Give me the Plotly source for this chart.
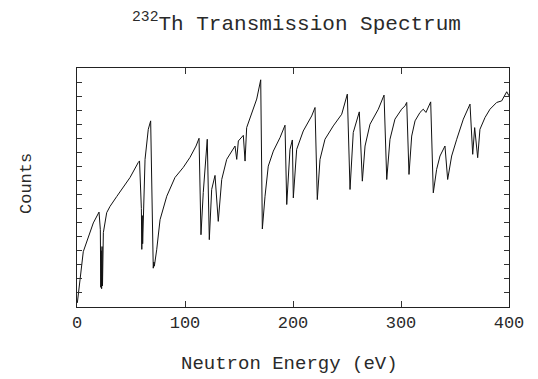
import plotly.graph_objects as go

# Neutron energy (eV) and transmission counts (arbitrary units)
energy = [0.3, 1.2, 2.8, 5.8, 10.5, 15.1, 20.4,
          21.6, 22.0, 22.4, 22.8, 23.2, 23.6, 24.0,
          24.4, 27.5, 30.6, 36.8, 46.0, 49.1, 56.8, 57.9,
          59.6, 60.0, 60.4, 60.8,
          63.0, 66.0, 68.2, 70.6, 71.2, 71.6, 73.8, 76.9, 83.1, 90.7, 98.4,
          104.6, 110.2, 113.0, 114.8, 116.9, 120.6, 122.5, 124.7, 127.8,
          130.8, 134.0, 138.6, 146.3, 147.9, 149.4, 154.0, 155.6, 157.1,
          161.8, 166.4, 170.1, 171.6, 174.1, 177.1, 181.8, 188.0, 192.6,
          194.2, 197.2, 199.4, 200.3, 203.4, 209.5, 217.3, 220.4, 222.5,
          225.0, 229.6, 237.3, 245.1, 250.3, 252.8, 255.8, 261.4, 264.2,
          266.7, 271.3, 279.0, 284.3, 286.8, 289.8, 294.4, 300.6, 303.7,
          305.3, 307.4, 309.9, 313.0, 317.6, 320.6, 323.1, 327.5, 329.9,
          333.0, 336.1, 340.7, 343.2, 346.9, 351.6, 357.7, 363.9, 366.4,
          368.2, 371.0, 373.1, 377.8, 382.4, 388.6, 393.2, 397.9, 400.0]
counts = [0.29, 1.0, 1.93, 3.93, 5.0, 5.98, 6.75,
          5.5, 1.4, 4.0, 1.3, 4.3, 1.5, 3.5,
          5.29, 6.71, 7.16, 7.86, 8.86, 9.21, 10.29, 10.39,
          7.0, 4.1, 6.5, 4.5,
          10.5, 12.64, 13.24, 2.76, 3.2, 2.9, 4.07, 6.21, 7.88, 9.21, 9.93,
          10.64, 11.45, 12.0, 5.14, 8.14, 11.93, 4.79, 8.36, 9.36,
          6.09, 9.07, 10.5, 11.45, 10.5, 11.81, 12.21, 10.38, 12.76,
          13.71, 14.79, 16.16, 5.55, 7.88, 10.02, 11.09, 12.05, 12.93,
          7.29, 11.21, 11.88, 7.76, 11.21, 12.52, 13.59, 14.19, 7.64,
          10.5, 11.93, 12.88, 13.71, 15.14, 8.36, 12.41, 13.88, 8.95,
          11.45, 13.0, 14.07, 15.07, 9.07, 11.93, 13.36, 14.07, 14.31,
          14.55, 9.43, 12.16, 13.24, 13.84, 14.07, 13.84, 14.59, 8.12,
          9.79, 10.74, 11.45, 9.07, 10.74, 11.93, 13.36, 14.43, 10.86,
          12.76, 10.62, 12.64, 13.48, 14.07, 14.55, 14.66, 15.31, 15.02]

x_ticks = [0, 100, 200, 300, 400]
title_text = "<sup>232</sup>Th Transmission Spectrum"
x_title = "Neutron Energy (eV)"
y_title = "Counts"

FONT = "Courier New, Liberation Mono, monospace"
TXT = "#2a2a2a"

fig = go.Figure()
fig.add_trace(go.Scatter(x=energy, y=counts, mode="lines",
                         line=dict(color="#111111", width=1),
                         hoverinfo="skip", showlegend=False))

fig.update_layout(
    width=538, height=379,
    margin=dict(l=77, r=29, t=68, b=72),
    paper_bgcolor="white", plot_bgcolor="white",
    font=dict(family=FONT, color=TXT, size=18),
    annotations=[
        dict(text=title_text, xref="paper", yref="paper",
             x=(296 - 77) / 432, y=1 + (68 - 22) / 239, xanchor="center", yanchor="middle",
             showarrow=False, font=dict(family=FONT, size=21, color=TXT)),
        dict(text=x_title, xref="paper", yref="paper",
             x=(289 - 77) / 432, y=-(364 - 307) / 239, xanchor="center", yanchor="middle",
             showarrow=False, font=dict(family=FONT, size=19, color=TXT)),
        dict(text=y_title, xref="paper", yref="paper", textangle=-90,
             x=(26 - 77) / 432, y=(307 - 184) / 239, xanchor="center", yanchor="middle",
             showarrow=False, font=dict(family=FONT, size=17, color=TXT)),
    ],
)
fig.update_xaxes(range=[0, 400], tickvals=x_ticks, ticktext=[str(v) for v in x_ticks],
                 ticks="inside", ticklen=6, tickcolor="#333333",
                 showline=True, linecolor="#222222", linewidth=1, mirror="allticks",
                 showgrid=False, zeroline=False,
                 tickfont=dict(family=FONT, size=17, color=TXT))
fig.update_yaxes(range=[0, 17], dtick=1, tick0=0,
                 ticks="inside", ticklen=5, tickcolor="#333333",
                 showline=True, linecolor="#222222", linewidth=1, mirror="allticks",
                 showticklabels=False, showgrid=False, zeroline=False)

fig.write_html("out.html")
